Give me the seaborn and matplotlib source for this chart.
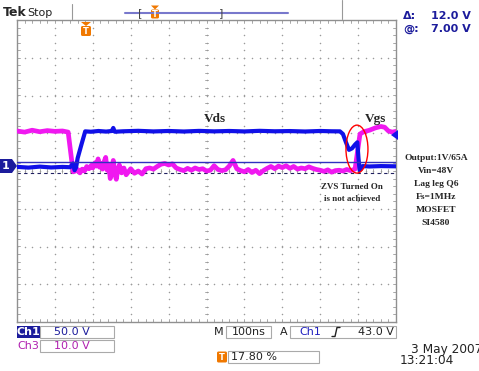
import matplotlib
matplotlib.use("Agg")
import matplotlib.pyplot as plt
import numpy as np
import pandas as pd
import seaborn as sns
from matplotlib.patches import Ellipse, Polygon, Rectangle, FancyBboxPatch

# ---- waveform data (time in ns, volts) ----
ch1_time = [0, 30, 60, 90, 120, 140, 148, 152, 156, 160, 170, 180, 195, 215, 235, 250, 254, 258,
            280, 320, 360, 400, 440, 480, 520, 560, 600, 640, 680, 720, 760, 800, 830, 852,
            860, 868, 876, 884, 892, 898, 901, 904, 912, 930, 960, 1000]
ch1_volts = [0.5, -0.5, 0.8, -0.3, 0.4, 0.0, 5.0, -4.0, 0.0, 12.0, 30.0, 47.5, 47.0, 48.0, 47.2, 48.0, 52.0, 47.0,
             47.6, 48.2, 47.4, 48.0, 47.3, 48.1, 47.5, 48.0, 47.4, 48.2, 47.6, 47.9, 47.3, 48.0, 47.6, 47.5,
             44.0, 33.0, 23.0, 25.0, 30.0, 33.0, 12.0, -4.0, 1.5, 1.0, 1.5, 1.2]

ch3_time = [0, 20, 40, 60, 80, 100, 120, 135, 148, 155, 160, 166, 172, 178, 184, 190, 196, 200,
            206, 210, 214, 218, 222, 226, 230, 234, 238, 242, 246, 250, 254, 258, 262, 266, 270,
            276, 282, 288, 294, 300, 310, 320, 330, 340, 350, 360, 370, 380, 390, 400, 410, 420,
            430, 440, 450, 460, 470, 480, 490, 500, 510, 520, 530, 540, 550, 560, 570, 580, 590,
            600, 610, 620, 630, 640, 650, 660, 670, 680, 690, 700, 710, 720, 730, 740, 750, 760,
            770, 780, 790, 800, 810, 820, 830, 840, 850, 860, 870, 880, 892, 905, 915, 930, 945,
            960, 970, 980, 990, 1000]
ch3_volts = [9.6, 9.3, 9.8, 9.4, 9.7, 9.5, 9.6, 9.3, -1.2, -1.0, -0.6, -1.5, -0.5, -1.0, 0.2, -0.4, 0.5, -0.2,
             1.2, 0.3, 2.2, 0.0, 1.0, -0.5, 1.5, 2.6, -0.8, 0.8, -3.0, -1.0, 1.8, -1.8, -3.2, -0.5, 0.6,
             -1.5, -0.2, -2.0, -1.2, -0.4, -1.6, -1.0, -1.8, -0.4, -0.2, -0.5, 0.2, 0.8, 1.0, 0.6, 0.9, -0.2,
             -0.6, -0.9, -0.3, -0.8, -0.2, -0.6, -0.4, -1.0, -0.8, 0.4, -0.6, -0.9, -0.7, 0.3, 1.8, -0.4, -0.9,
             -1.2, -0.6, -1.4, -0.8, -1.7, -0.9, -0.3, 0.2, -0.4, 0.3, -0.1, 0.4, -0.3, 0.2, -0.5, -0.2, -0.4,
             0.1, -0.3, -0.6, -0.8, -1.1, -0.7, -1.3, -0.9, -0.8, -1.0, -0.6, -0.9, -0.5, 8.8, 9.4, 9.8, 10.4,
             10.8, 10.6, 9.6, 9.3, 9.5]

ch1_scale = 50.0   # V/div
ch3_scale = 10.0   # V/div
ground_div = 0.1

W, H = 479, 371
NAVY = "#1c1c9c"
MAG = "#b020b0"
ORANGE = "#f07800"
GRAT = "#9a9a9a"

sns.set_style("white")
plt.rcParams["font.family"] = ["DejaVu Sans"]

fig = plt.figure(figsize=(W / 100, H / 100), dpi=100)
ax = fig.add_axes([17 / W, 1 - 322 / H, 379 / W, 302 / H])
ax.set_xlim(0, 10)
ax.set_ylim(-4, 4)
ax.set_xticks([])
ax.set_yticks([])
for sp in ax.spines.values():
    sp.set_color("#909090")
    sp.set_linewidth(1.0)

# graticule
fine = np.arange(0, 10.01, 0.2)
fine_y = np.arange(-4, 4.01, 0.2)
for gx in range(1, 10):
    ax.scatter([gx] * len(fine_y), fine_y, s=1.2, color=GRAT, zorder=1, linewidths=0)
for gy in range(-3, 4):
    ax.scatter(fine, [gy] * len(fine), s=1.2, color=GRAT, zorder=1, linewidths=0)
for v in fine:
    ax.plot([v, v], [-0.05, 0.05], color=GRAT, lw=0.6, zorder=1)
    ax.plot([v, v], [-4, -3.92], color=GRAT, lw=0.6, zorder=1)
    ax.plot([v, v], [3.92, 4], color=GRAT, lw=0.6, zorder=1)
for v in fine_y:
    ax.plot([4.95, 5.05], [v, v], color=GRAT, lw=0.6, zorder=1)
    ax.plot([0, 0.08], [v, v], color=GRAT, lw=0.6, zorder=1)
    ax.plot([9.92, 10], [v, v], color=GRAT, lw=0.6, zorder=1)

# traces
ch3 = pd.DataFrame({"t": np.array(ch3_time) / 100.0,
                    "y": ground_div + np.array(ch3_volts) / ch3_scale})
ch1 = pd.DataFrame({"t": np.array(ch1_time) / 100.0,
                    "y": ground_div + np.array(ch1_volts) / ch1_scale})
sns.lineplot(data=ch3, x="t", y="y", ax=ax, color="#f018f0", lw=3.4, sort=False, estimator=None, zorder=3)
sns.lineplot(data=ch1, x="t", y="y", ax=ax, color="#1010e8", lw=3.0, sort=False, estimator=None, zorder=4)
ax.set_xlabel("")
ax.set_ylabel("")

# cursors
ax.axhline(0.24, color="#3030c0", lw=1.0, zorder=5)
ax.axhline(-0.05, color="#202060", lw=0.8, ls=(0, (3, 3)), zorder=2)

ax.add_patch(Ellipse((8.97, 0.58), 0.58, 1.27, fill=False, edgecolor="red", lw=1.0, zorder=6))

serif = ["Liberation Serif", "DejaVu Serif"]
ax.text(5.22, 1.38, "Vds", fontsize=9.5, fontweight="bold", family=serif, ha="center", va="center")
ax.text(9.45, 1.38, "Vgs", fontsize=9.5, fontweight="bold", family=serif, ha="center", va="center")
ax.text(8.83, -0.42, "ZVS Turned On", fontsize=6.5, fontweight="bold", family=serif, ha="center", va="center", zorder=7)
ax.text(8.83, -0.74, "is not achieved", fontsize=6.5, fontweight="bold", family=serif, ha="center", va="center", zorder=7)

# overlay in pixel coordinates
ov = fig.add_axes([0, 0, 1, 1])
ov.set_xlim(0, W)
ov.set_ylim(H, 0)
ov.axis("off")

side = ["Output:1V/65A", "Vin=48V", "Lag leg Q6", "Fs=1MHz", "MOSFET", "SI4580"]
for i, s in enumerate(side):
    ov.text(436, 158 + i * 13, s, fontsize=6.8, fontweight="bold", family=serif, ha="center", va="center")

# top bar
ov.text(3, 13, "Tek", fontsize=9, fontweight="bold", ha="left", va="center")
ov.text(27, 13, "Stop", fontsize=8, ha="left", va="center", color="#222222")
ov.plot([72, 72], [4, 19], color="#999999", lw=0.8)
ov.plot([125, 288], [13, 13], color="#7878cc", lw=1.5)
ov.text(140, 13, "[", fontsize=8, ha="center", va="center", color="#444444")
ov.text(221, 13, "]", fontsize=8, ha="center", va="center", color="#444444")
ov.plot([342, 342], [0, 19], color="#999999", lw=0.8)


def t_icon(x, y, w=9, h=10, arrow=True):
    if arrow:
        ov.add_patch(Polygon([(x - w / 2, y - h / 2 - 4), (x + w / 2, y - h / 2 - 4), (x, y - h / 2)],
                             color=ORANGE, lw=0))
    ov.add_patch(FancyBboxPatch((x - w / 2, y - h / 2), w, h, boxstyle="round,pad=0,rounding_size=1.5",
                                color=ORANGE, lw=0))
    ov.text(x, y + 0.5, "T", fontsize=6, fontweight="bold", color="white", ha="center", va="center")


t_icon(155, 14, w=8, h=9)
t_icon(86, 31, w=10, h=10)

ov.text(403, 16, "\u0394:", fontsize=8, fontweight="bold", color=NAVY, ha="left", va="center")
ov.text(471, 16, "12.0 V", fontsize=8, fontweight="bold", color=NAVY, ha="right", va="center")
ov.text(403, 29, "@:", fontsize=8, fontweight="bold", color=NAVY, ha="left", va="center")
ov.text(471, 29, "7.00 V", fontsize=8, fontweight="bold", color=NAVY, ha="right", va="center")

# channel marker and trigger level marker
ov.add_patch(Polygon([(0, 159), (12, 159), (17, 166), (12, 173), (0, 173)], color=NAVY, lw=0))
ov.text(6, 166, "1", fontsize=8, fontweight="bold", color="white", ha="center", va="center")
ov.add_patch(Polygon([(398, 130), (398, 140), (391, 135)], color="#1414e8", lw=0))

# bottom readouts
ov.add_patch(Rectangle((17, 326), 23, 12, color=NAVY, lw=0))
ov.text(28.5, 332, "Ch1", fontsize=8, fontweight="bold", color="white", ha="center", va="center")
ov.add_patch(Rectangle((40, 326), 74, 12, fill=False, edgecolor="#aaaaaa", lw=0.8))
ov.text(72, 332, "50.0 V", fontsize=8, color=NAVY, ha="center", va="center")
ov.text(28.5, 346, "Ch3", fontsize=8, color=MAG, ha="center", va="center")
ov.add_patch(Rectangle((40, 340), 74, 12, fill=False, edgecolor="#aaaaaa", lw=0.8))
ov.text(72, 346, "10.0 V", fontsize=8, color=MAG, ha="center", va="center")

ov.text(224, 332, "M", fontsize=8, color="#222222", ha="right", va="center")
ov.add_patch(Rectangle((226, 326), 45, 12, fill=False, edgecolor="#aaaaaa", lw=0.8))
ov.text(248.5, 332, "100ns", fontsize=8, color="#222222", ha="center", va="center")
ov.text(288, 332, "A", fontsize=8, color="#222222", ha="right", va="center")
ov.add_patch(Rectangle((290, 326), 106, 12, fill=False, edgecolor="#aaaaaa", lw=0.8))
ov.text(310, 332, "Ch1", fontsize=8, color="#2020c0", ha="center", va="center")
ov.plot([332, 335, 337, 340], [336.5, 336.5, 327.5, 327.5], color="#222222", lw=1.0)
ov.text(394, 332, "43.0 V", fontsize=8, color="#222222", ha="right", va="center")

t_icon(222, 357, w=10, h=11, arrow=False)
ov.add_patch(Rectangle((228, 351), 91, 12, fill=False, edgecolor="#aaaaaa", lw=0.8))
ov.text(231, 357, "17.80 %", fontsize=8, color="#222222", ha="left", va="center")

ov.text(411, 349, "3 May 2007", fontsize=8.7, color="#222222", ha="left", va="center")
ov.text(400, 361, "13:21:04", fontsize=8.7, color="#222222", ha="left", va="center")

fig.savefig("out.png", dpi=100, facecolor="white")
